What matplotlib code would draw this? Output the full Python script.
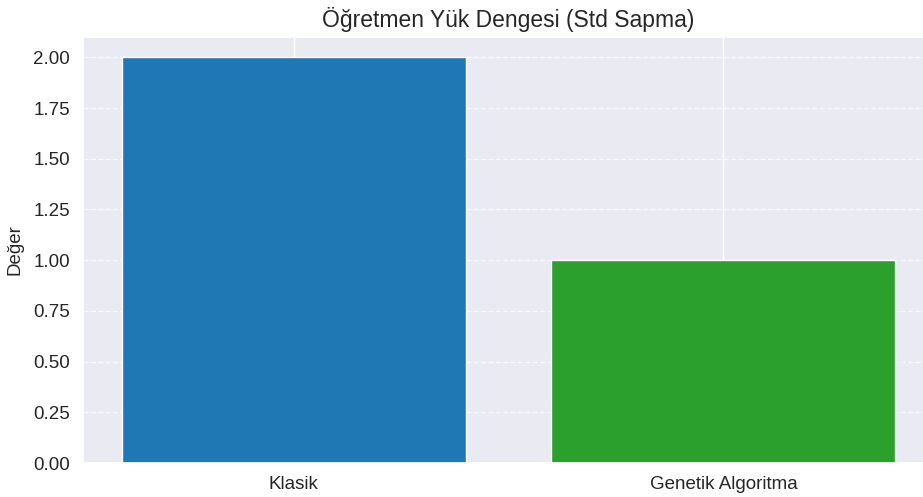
import matplotlib

matplotlib.use("Agg")
import matplotlib.pyplot as plt
import seaborn as sns

methods = ["Klasik", "Genetik Algoritma"]
std_values = [2.0, 1.0]
bar_colors = ["tab:blue", "tab:green"]

sns.set_theme(style="darkgrid")
plt.rcParams["font.family"] = ["Liberation Sans", "DejaVu Sans"]

fig = plt.figure(figsize=(9.23, 4.97), dpi=100)
ax = fig.add_axes([0.0899, 0.0684, 0.922, 0.857])
ax.bar(methods, std_values, color=bar_colors)
ax.set_title("Öğretmen Yük Dengesi (Std Sapma)", fontsize=16.5, pad=7)
ax.set_ylabel("Değer", fontsize=13.5)
ax.tick_params(axis="both", labelsize=13.5)
ax.grid(axis="y", linestyle="--", alpha=0.7)
ax.yaxis.set_label_coords(-0.07, 0.5)

fig.savefig("out.png", dpi=100)
